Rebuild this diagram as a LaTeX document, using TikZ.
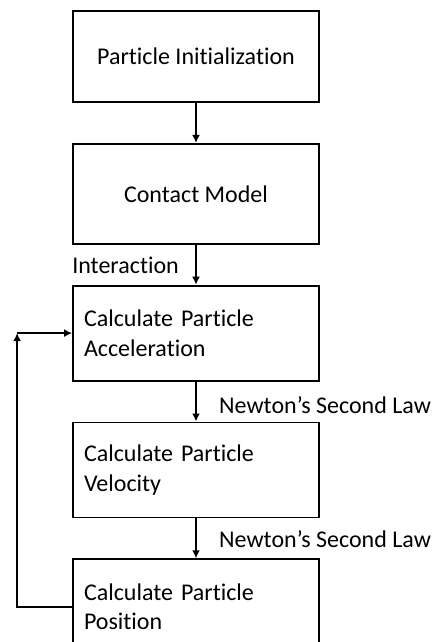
\documentclass[tikz,border=0pt]{standalone}
\usepackage{fontspec}
\setmainfont[Ligatures=NoCommon]{Carlito}
\usetikzlibrary{arrows.meta,positioning,calc}

\begin{document}
\begin{tikzpicture}[
  x=1pt,y=-1pt,>={Latex[length=8pt,width=8pt]},
  font=\fontsize{24}{29.5}\selectfont,
  box/.style={draw=black,line width=1.8pt,minimum width=246pt,minimum height=95pt,
    inner sep=0pt,align=center},
  stepbox/.style={box,align=left,text width=224pt},
  flow/.style={->,line width=2.4pt},
  lbl/.style={inner sep=0pt}]
  \useasboundingbox (0,0) rectangle (437,642);
  \clip (0,0) rectangle (437,642);
  \node[box,minimum height=91pt] (init) at (196,56.5) {Particle Initialization};
  \node[box,minimum height=100pt,below=40pt of init] (contact) {Contact Model};
  \node[stepbox,below=40pt of contact] (accel) {Calculate Particle\\Acceleration};
  \node[stepbox,below=40pt of accel] (vel) {Calculate Particle\\Velocity};
  \node[stepbox,below=40pt of vel] (pos) {Calculate Particle\\Position};
  \draw[flow] (init) -- (contact);
  \draw[flow] (contact) -- (accel);
  \draw[flow] (accel) -- (vel);
  \draw[flow] (vel) -- (pos);
  \node[lbl,anchor=east] (inter) at ($(contact.south)!0.5!(accel.north)+(-17,1)$) {Interaction};
  \node[lbl,anchor=west] (newton1) at ($(accel.south)!0.5!(vel.north)+(23,4)$) {Newton’s Second Law};
  \node[lbl,anchor=west] (newton2) at ($(vel.south)!0.5!(pos.north)+(23,1)$) {Newton’s Second Law};
  % feedback loop
  \coordinate (loopc) at ($(accel.west)+(-55,0)$);
  \draw[flow] (pos.west) -| (loopc);
  \draw[flow] (loopc) -- (accel.west);
\end{tikzpicture}
\end{document}
